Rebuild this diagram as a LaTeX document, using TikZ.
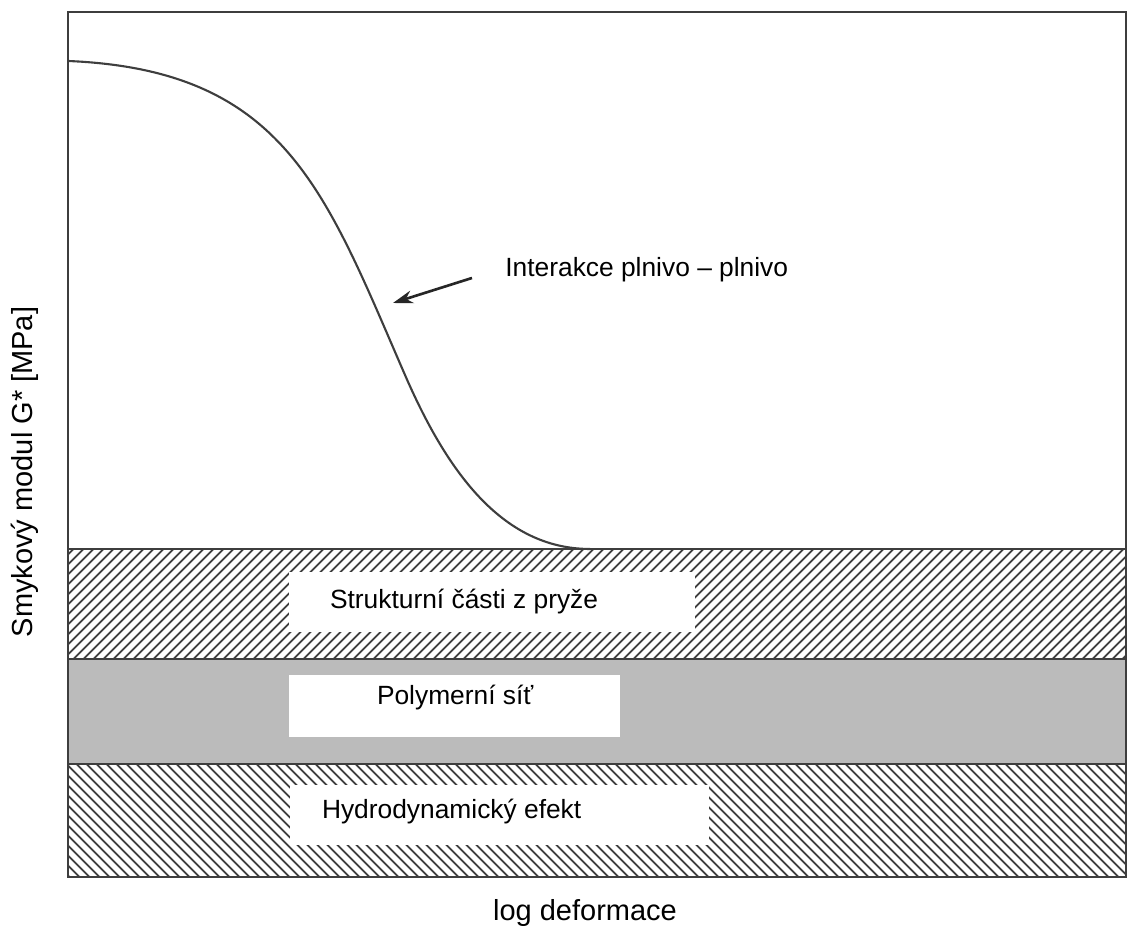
\documentclass[tikz,border=0pt]{standalone}
\usepackage{fontspec}
\setsansfont{Liberation Sans}
\definecolor{plotgray}{RGB}{62,62,62}
\definecolor{netgray}{RGB}{187,187,187}
\tikzset{every picture/.style={/utils/exec={\sffamily}}}
\usetikzlibrary{positioning}
\usetikzlibrary{patterns.meta,arrows.meta}
\tikzset{
  labelbox/.style={fill=white, draw=none, inner sep=0pt},
  bandlabel/.style={inner sep=0pt, font=\fontsize{15}{18}\selectfont},
  axislabel/.style={font=\fontsize{16.5}{20}\selectfont},
  hatchup/.style={pattern={Lines[angle=45,distance=4pt,line width=1.1pt]}, pattern color=plotgray},
  hatchdown/.style={pattern={Lines[angle=-45,distance=4pt,line width=1.1pt]}, pattern color=plotgray},
  frameline/.style={draw=plotgray, line width=1.6pt},
}

\begin{document}
\begin{tikzpicture}
  \useasboundingbox (0,0) rectangle (22.56,18.74);

  % bands
  \fill[hatchdown] (1.36,1.2) rectangle (22.52,3.46);
  \fill[netgray] (1.36,3.46) rectangle (22.52,5.56);
  \fill[hatchup] (1.36,5.56) rectangle (22.52,7.76);

  % white boxes behind the labels
  \node[labelbox, minimum width=8.12cm, minimum height=1.2cm] (rubberbox) at (9.84,6.7) {};
  \node[labelbox, minimum width=6.62cm, minimum height=1.24cm] (networkbox) at (9.09,4.62) {};
  \node[labelbox, minimum width=8.38cm, minimum height=1.2cm] (hydrobox) at (9.99,2.44) {};

  \node[bandlabel, right=0.82cm of rubberbox.west] (rubber) {Strukturní části z pryže};
  \node[bandlabel, right=1.76cm of networkbox.west, yshift=0.16cm] (network) {Polymerní síť};
  \node[bandlabel, right=0.64cm of hydrobox.west, yshift=0.06cm] (hydro) {Hydrodynamický efekt};

  % frame and band borders
  \draw[frameline] (1.36,1.2) rectangle (22.52,18.5);
  \draw[frameline] (1.36,3.46) -- (22.52,3.46);
  \draw[frameline] (1.36,5.56) -- (22.52,5.56);
  \draw[frameline] (1.36,7.76) -- (22.52,7.76);

  % modulus curve
  \draw[plotgray, line width=1.2pt] (1.36,17.52)
    .. controls (5.7,17.34) and (6.5,14.92) .. (8.1,11.24)
    .. controls (8.9,9.4) and (10.0,7.76) .. (11.8,7.76);

  \coordinate (curvept) at (7.86,12.68);
  \node[bandlabel, anchor=west] (fillerlbl) at (10.1,13.34) {Interakce plnivo – plnivo};
  \draw[-{Stealth[length=4mm,width=2.6mm]}, line width=1.5pt, black!85]
    ([shift={(-0.66,-0.16)}]fillerlbl.west) -- (curvept);

  % axis labels
  \node[axislabel, rotate=90] (ylbl) at (0.5,9.3) {Smykový modul G* [MPa]};
  \node[axislabel] (xlbl) at (11.7,0.48) {log deformace};
\end{tikzpicture}
\end{document}
